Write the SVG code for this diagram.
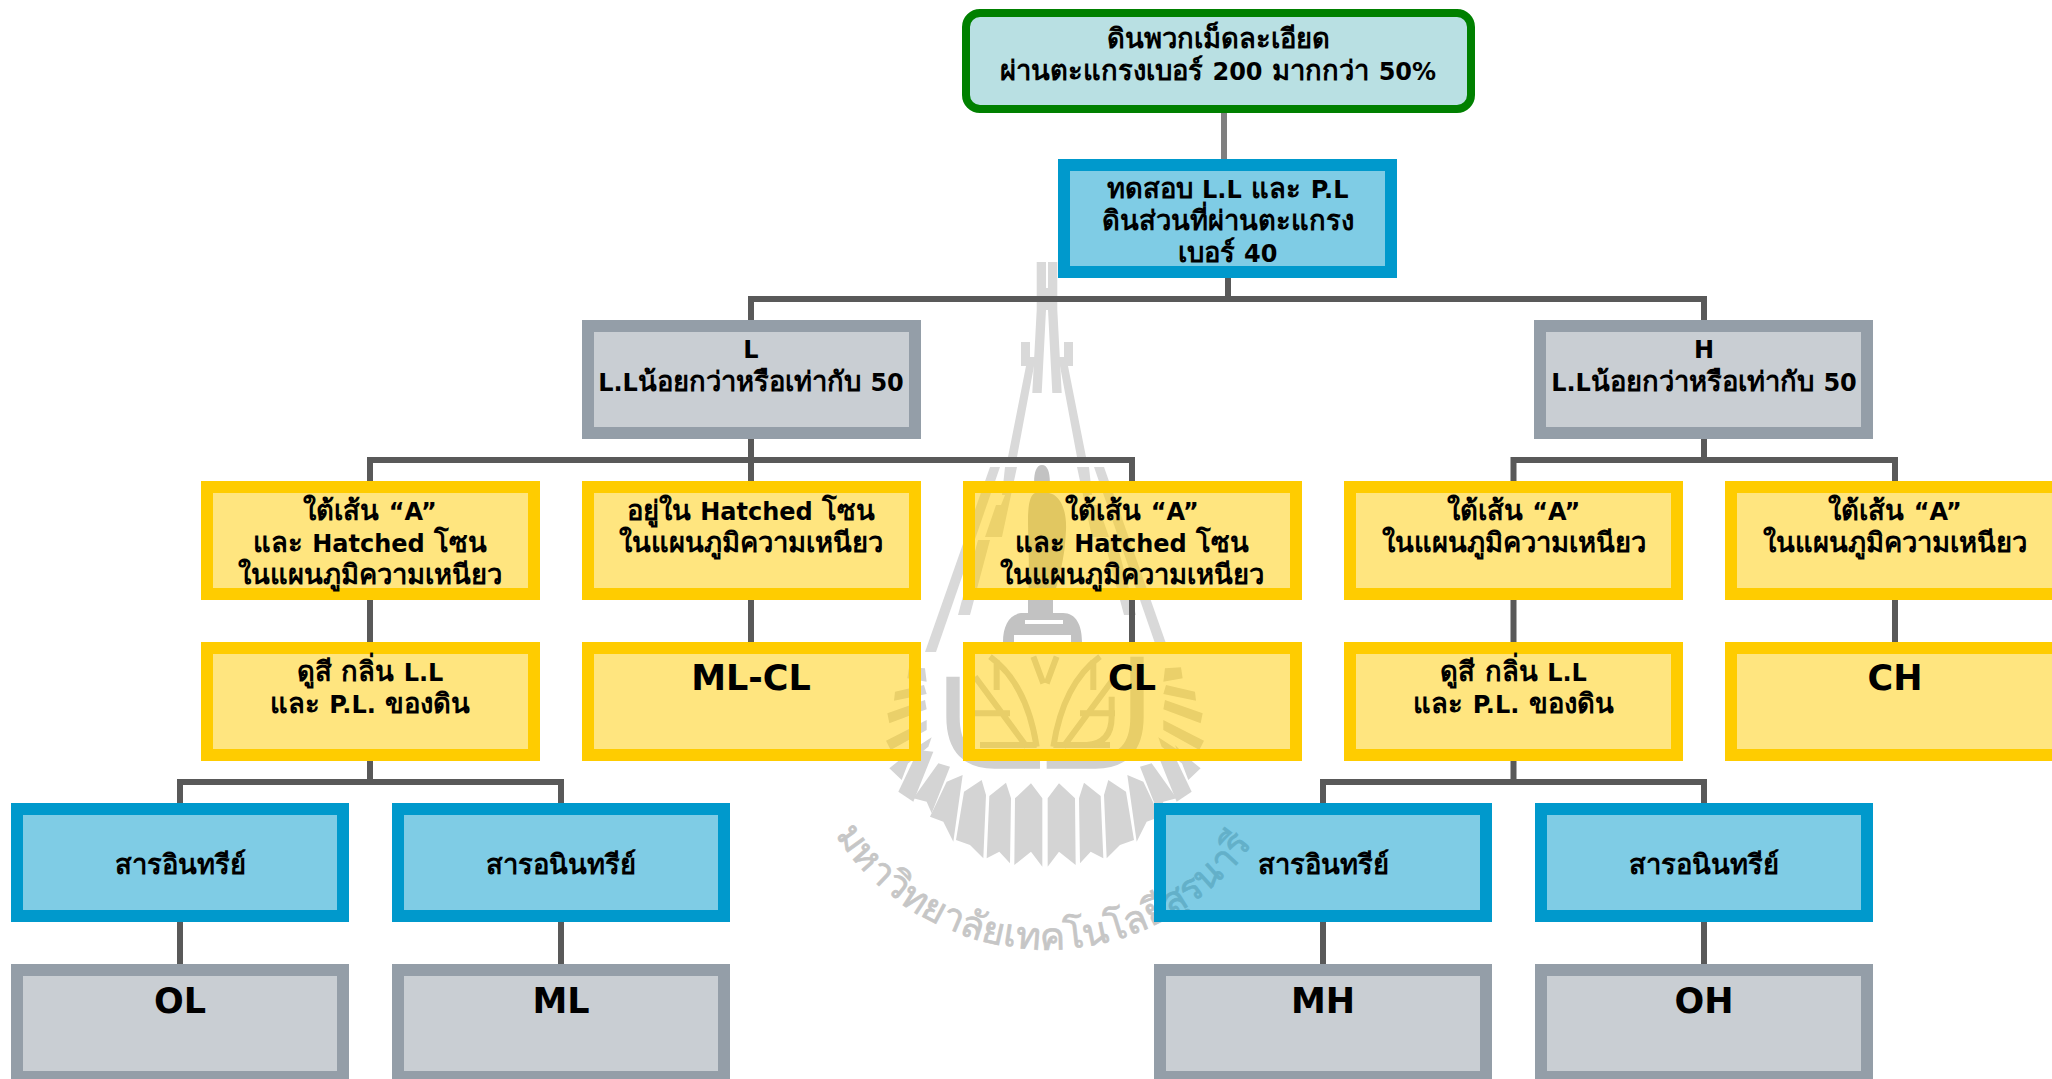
<svg xmlns="http://www.w3.org/2000/svg" width="2052" height="1079" viewBox="0 0 2052 1079">
<style>
text{font-family:"DejaVu Sans","Noto Sans","Liberation Sans",sans-serif;font-weight:700;fill:#000;text-anchor:middle;font-size:27.4px}
.l{font-size:24px}
.big{font-size:35px}
.y{fill:#FFCC00;fill-opacity:.5;stroke:#FFCC00;stroke-width:12}
.b{fill:#0099CC;fill-opacity:.5;stroke:#0099CC;stroke-width:12}
.g{fill:#949EA8;fill-opacity:.5;stroke:#949EA8;stroke-width:12}
.c{fill:none;stroke:#595959;stroke-width:6}
.wl{fill:#D9D9D9}
.wd{fill:#C2C2C2}
.wp{fill:#D4D4D4}
.wv{fill:none;stroke:#D0D0D0;stroke-width:18}
#wmt{font-size:38px;font-weight:400;fill:#C6C6C6;stroke:#C6C6C6;stroke-width:.7px;text-anchor:start;font-family:"Noto Sans","DejaVu Sans",sans-serif}
</style>
<defs>
<g id="spire">
<path class="wl" d="M1036.7,262H1046V288H1047V310H1046L1041.7,393H1032.3L1036.7,310Z"/>
<path class="wl" d="M1021,342H1030V357H1037V366H1034L1017,457H1008L1026,366H1021Z"/>
<path class="wl" d="M990,467H1000L936,652H925Z"/>
<path class="wl" d="M1005,467H1017L1002,537H985L996,505H1001L1005,495H1002Z"/>
<path class="wl" d="M978,540H990L970,615H958Z"/>
</g>
<g id="fan">
<polygon points="503,745 537,700 585,745 587,945 537,905 503,950"/>
<polygon points="597,745 612,698 662,738 670,925 632,905 600,940"/>
<polygon points="672,735 685,690 738,725 762,870 720,885 680,925"/>
<polygon points="742,675 790,695 840,800 800,815 770,875"/>
<polygon points="780,650 815,640 890,745 850,755 835,790"/>
<polygon points="830,605 875,600 935,725 890,755"/>
<polygon points="885,585 925,625 962,655 925,690"/>
<polygon points="855,355 903,352 908,385 850,395"/>
<polygon points="858,405 945,425 948,452 850,432"/>
<polygon points="855,450 968,490 962,520 850,478"/>
<polygon points="850,510 972,572 958,600 850,540"/>
<polygon points="835,562 925,620 905,640 845,590"/>
</g>
<g id="leaf">
<path d="M285,380L440,590M285,490H390M350,330V420M330,320Q440,400 470,590M300,585H470M460,320L490,400"/>
</g>
<path id="arc" d="M835,835A253,253 0 0 0 1255,840"/>
</defs>
<g id="watermark">
<use href="#spire"/>
<use href="#spire" transform="matrix(-1 0 0 1 2094 0)"/>
<path class="wd" d="M1035,493C1033,480 1034,465 1042,465C1050,465 1051,480 1049,493C1060,495 1067,510 1066,530C1065,560 1058,580 1053,600V613H1063C1076,613 1082,625 1082,642H1071V635H1014V642H1003C1003,625 1010,613 1023,613H1028V600C1030,570 1028,540 1028,520C1028,505 1030,495 1035,493ZM1025,620V624H1063V620Z" fill-rule="evenodd"/>
<g transform="translate(880 550) scale(.33333)">
<path class="wv" style="stroke-width:40" d="M219,380V500Q219,640 350,636H480M771,320V500Q771,640 640,636H500"/>
<g class="wv"><use href="#leaf"/><use href="#leaf" transform="matrix(-1 0 0 1 990 0)"/><path d="M695,440V500Q695,580 620,585"/></g>
<g class="wp"><use href="#fan"/><use href="#fan" transform="matrix(-1 0 0 1 990 0)"/></g>
</g>
<text id="wmt"><textPath href="#arc" textLength="490">มหาวิทยาลัยเทคโนโลยีสุรนารี</textPath></text>
</g>
<g id="connectors">
<path d="M1224,113V159" class="c" style="stroke:#7F7F7F"/>
<path class="c" d="M1228,278V299M751,320V299H1704V320"/>
<path class="c" d="M751,439V481M370,481V460H1132V481"/>
<path class="c" d="M1704,439V460M1513.5,481V460H1895V481"/>
<path class="c" d="M370,600V642M751,600V642M1132,600V642M1513.5,600V642M1895,600V642"/>
<path class="c" d="M370,761V782M180,803V782H561V803"/>
<path class="c" d="M1513.5,761V782M1323,803V782H1704V803"/>
<path class="c" d="M180,922V964M561,922V964M1323,922V964M1704,922V964"/>
</g>
<g id="n-root"><rect x="966" y="13" width="505" height="96" rx="14" fill="#B9E0E3" stroke="#008000" stroke-width="8"/><text x="1218" y="48">ดินพวกเม็ดละเอียด</text><text x="1218" y="80">ผ่านตะแกรงเบอร์ <tspan class="l">200</tspan> มากกว่า <tspan class="l">50%</tspan></text></g>
<g id="n-test"><rect class="b" x="1064" y="165" width="327" height="107"/><text x="1227.5" y="198">ทดสอบ <tspan class="l">L.L</tspan> และ <tspan class="l">P.L</tspan></text><text x="1227.5" y="230">ดินส่วนที่ผ่านตะแกรง</text><text x="1227.5" y="262">เบอร์ <tspan class="l">40</tspan></text></g>
<g id="n-l"><rect class="g" x="588" y="326" width="327" height="107"/><text class="l" x="751" y="358">L</text><text x="751" y="391"><tspan class="l">L.L</tspan>น้อยกว่าหรือเท่ากับ <tspan class="l">50</tspan></text></g>
<g id="n-h"><rect class="g" x="1540" y="326" width="327" height="107"/><text class="l" x="1704" y="358">H</text><text x="1704" y="391"><tspan class="l">L.L</tspan>น้อยกว่าหรือเท่ากับ <tspan class="l">50</tspan></text></g>
<g id="n-a1"><rect class="y" x="207" y="487" width="327" height="107"/><text x="370" y="520">ใต้เส้น <tspan class="l">“A”</tspan></text><text x="370" y="552">และ <tspan class="l">Hatched</tspan> โซน</text><text x="370" y="584">ในแผนภูมิความเหนียว</text></g>
<g id="n-a2"><rect class="y" x="588" y="487" width="327" height="107"/><text x="751" y="520">อยู่ใน <tspan class="l">Hatched</tspan> โซน</text><text x="751" y="552">ในแผนภูมิความเหนียว</text></g>
<g id="n-a3"><rect class="y" x="969" y="487" width="327" height="107"/><text x="1132" y="520">ใต้เส้น <tspan class="l">“A”</tspan></text><text x="1132" y="552">และ <tspan class="l">Hatched</tspan> โซน</text><text x="1132" y="584">ในแผนภูมิความเหนียว</text></g>
<g id="n-a4"><rect class="y" x="1350" y="487" width="327" height="107"/><text x="1513.5" y="520">ใต้เส้น <tspan class="l">“A”</tspan></text><text x="1513.5" y="552">ในแผนภูมิความเหนียว</text></g>
<g id="n-a5"><rect class="y" x="1731" y="487" width="327" height="107"/><text x="1895" y="520">ใต้เส้น <tspan class="l">“A”</tspan></text><text x="1895" y="552">ในแผนภูมิความเหนียว</text></g>
<g id="n-c1"><rect class="y" x="207" y="648" width="327" height="107"/><text x="370" y="681">ดูสี กลิ่น <tspan class="l">L.L</tspan></text><text x="370" y="713">และ <tspan class="l">P.L.</tspan> ของดิน</text></g>
<g id="n-mlcl"><rect class="y" x="588" y="648" width="327" height="107"/><text class="big" x="751" y="690">ML-CL</text></g>
<g id="n-cl"><rect class="y" x="969" y="648" width="327" height="107"/><text class="big" x="1132" y="690">CL</text></g>
<g id="n-c2"><rect class="y" x="1350" y="648" width="327" height="107"/><text x="1513.5" y="681">ดูสี กลิ่น <tspan class="l">L.L</tspan></text><text x="1513.5" y="713">และ <tspan class="l">P.L.</tspan> ของดิน</text></g>
<g id="n-ch"><rect class="y" x="1731" y="648" width="327" height="107"/><text class="big" x="1895" y="690">CH</text></g>
<g id="n-o1"><rect class="b" x="17" y="809" width="326" height="107"/><text x="180" y="874">สารอินทรีย์</text></g>
<g id="n-i1"><rect class="b" x="398" y="809" width="326" height="107"/><text x="561" y="874">สารอนินทรีย์</text></g>
<g id="n-o2"><rect class="b" x="1160" y="809" width="326" height="107"/><text x="1323" y="874">สารอินทรีย์</text></g>
<g id="n-i2"><rect class="b" x="1541" y="809" width="326" height="107"/><text x="1704" y="874">สารอนินทรีย์</text></g>
<g id="n-ol"><rect class="g" x="17" y="970" width="326" height="107"/><text class="big" x="180" y="1013">OL</text></g>
<g id="n-ml"><rect class="g" x="398" y="970" width="326" height="107"/><text class="big" x="561" y="1013">ML</text></g>
<g id="n-mh"><rect class="g" x="1160" y="970" width="326" height="107"/><text class="big" x="1323" y="1013">MH</text></g>
<g id="n-oh"><rect class="g" x="1541" y="970" width="326" height="107"/><text class="big" x="1704" y="1013">OH</text></g>
</svg>
